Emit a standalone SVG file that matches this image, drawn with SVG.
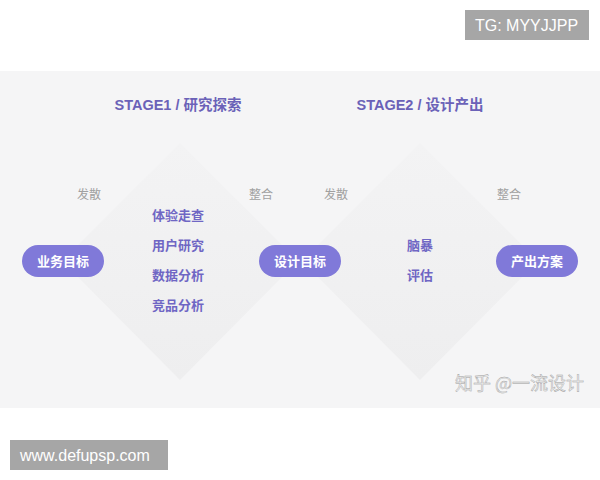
<svg xmlns="http://www.w3.org/2000/svg" width="600" height="480" viewBox="0 0 600 480">
<defs>
<linearGradient id="dg" x1="0" y1="0" x2="0" y2="1">
<stop offset="0" stop-color="#f3f3f4"/>
<stop offset="1" stop-color="#eeeeef"/>
</linearGradient>
<style>
.title{font-family:"Liberation Sans","Noto Sans CJK SC",sans-serif;font-weight:bold;font-size:14.5px;fill:#6b62b8;text-anchor:middle}
.side{font-family:"Noto Sans CJK SC",sans-serif;font-size:12px;fill:#a0a0a0;text-anchor:middle}
.item{font-family:"Noto Sans CJK SC",sans-serif;font-weight:bold;font-size:13px;fill:#6f66c4;text-anchor:middle}
.pill{fill:#8079d9}
.pt{font-family:"Noto Sans CJK SC",sans-serif;font-weight:bold;font-size:13px;fill:#ffffff;text-anchor:middle}
.tag{fill:#a6a6a6}
.tt{font-family:"Liberation Sans",sans-serif;font-size:16px;fill:#ffffff}
</style>
</defs>
<rect x="0" y="0" width="600" height="480" fill="#ffffff"/>
<rect x="0" y="71" width="600" height="337" fill="#f5f5f6"/>
<polygon points="180,143 298,261 180,380 62,261" fill="url(#dg)"/>
<polygon points="420,143 538,261 420,380 302,261" fill="url(#dg)"/>
<text class="title" x="178" y="110">STAGE1 / 研究探索</text>
<text class="title" x="420" y="110">STAGE2 / 设计产出</text>
<text class="side" x="89" y="199">发散</text>
<text class="side" x="261" y="199">整合</text>
<text class="side" x="336" y="199">发散</text>
<text class="side" x="509" y="199">整合</text>
<g id="stage1-items">
<text class="item" x="178" y="220">体验走查</text>
<text class="item" x="178" y="250">用户研究</text>
<text class="item" x="178" y="280">数据分析</text>
<text class="item" x="178" y="310">竞品分析</text>
</g>
<g id="stage2-items">
<text class="item" x="420" y="250">脑暴</text>
<text class="item" x="420" y="280">评估</text>
</g>
<g id="connectors"></g>
<g id="n1"><rect class="pill" x="22" y="245" width="82" height="32" rx="16"/><text class="pt" x="63" y="266">业务目标</text></g>
<g id="n2"><rect class="pill" x="259" y="245" width="82" height="32" rx="16"/><text class="pt" x="300" y="266">设计目标</text></g>
<g id="n3"><rect class="pill" x="496" y="245" width="82" height="32" rx="16"/><text class="pt" x="537" y="266">产出方案</text></g>
<text x="455" y="390" font-family="Noto Sans CJK SC,sans-serif" font-size="18" fill="#ececec" stroke="#a0a0a0" stroke-width="0.4">知乎 @一流设计</text>
<rect class="tag" x="465" y="10" width="124" height="30"/>
<text class="tt" x="475" y="31">TG: MYYJJPP</text>
<rect class="tag" x="10" y="440" width="158" height="30"/>
<text class="tt" x="20" y="461">www.defupsp.com</text>
</svg>
